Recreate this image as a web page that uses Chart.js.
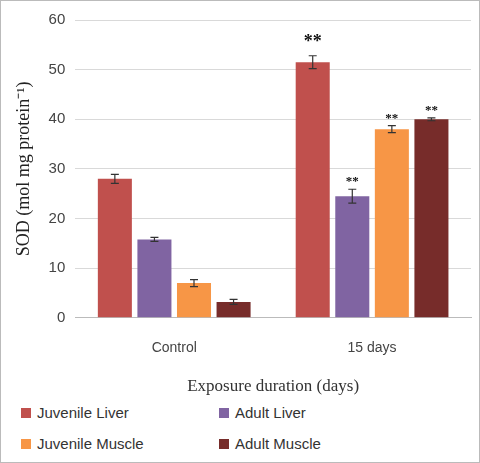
<!DOCTYPE html>
<html><head><meta charset="utf-8">
<script src="https://cdn.jsdelivr.net/npm/chart.js@4/dist/chart.umd.min.js"></script>
<style>
body{margin:0;background:#fff;font-family:"Liberation Sans",Arial,sans-serif}
#wrap{position:relative;width:478px;height:461px;border:1px solid #bbb}
#c{position:absolute;left:0;top:0}
.lg{position:absolute;font-size:15px;color:#333}
.lg span{display:inline-block;width:10px;height:10px;margin-right:6px;vertical-align:0}
</style></head><body>
<div id="wrap"><canvas id="c" width="478" height="400"></canvas>
<div class="lg" style="left:20px;top:403px"><span style="background:#c0504d"></span>Juvenile Liver</div>
<div class="lg" style="left:218px;top:403px"><span style="background:#8064a2"></span>Adult Liver</div>
<div class="lg" style="left:20px;top:434px"><span style="background:#f79646"></span>Juvenile Muscle</div>
<div class="lg" style="left:218px;top:434px"><span style="background:#772c2a"></span>Adult Muscle</div>
</div>
<script>
const categories=["Control","15 days"];
const seriesNames=["Juvenile Liver","Adult Liver","Juvenile Muscle","Adult Muscle"];
const colors=["#c0504d","#8064a2","#f79646","#772c2a"];
const juvenileLiver=[28,51.5];
const adultLiver=[15.8,24.5];
const juvenileMuscle=[7,38];
const adultMuscle=[3.2,40];
const errJL=[0.9,1.3]; const errAL=[0.4,1.4]; const errJM=[0.7,0.7]; const errAM=[0.5,0.3];
const stars=[["","**"],["","**"],["","**"],["","**"]];
const vals=[juvenileLiver,adultLiver,juvenileMuscle,adultMuscle];
const errs=[errJL,errAL,errJM,errAM];
const plug={id:'eb',afterDatasetsDraw(ch){const c=ch.ctx,y=ch.scales.y;
ch.data.datasets.forEach((d,i)=>{ch.getDatasetMeta(i).data.forEach((b,j)=>{
const v=vals[i][j],e=errs[i][j],t=y.getPixelForValue(v+e),bt=y.getPixelForValue(v-e);
c.save();c.strokeStyle='#333';c.lineWidth=1.2;c.beginPath();
c.moveTo(b.x,t);c.lineTo(b.x,bt);c.moveTo(b.x-4,t);c.lineTo(b.x+4,t);c.moveTo(b.x-4,bt);c.lineTo(b.x+4,bt);c.stroke();
if(stars[i][j]){c.fillStyle='#111';c.textAlign='center';c.textBaseline='bottom';
c.font=(i==0?'bold 18px':'bold 13px')+' "Liberation Serif"';c.fillText(stars[i][j],b.x,t-(i==0?4:1));}
c.restore();});});}};
new Chart(document.getElementById('c'),{type:'bar',
data:{labels:categories,datasets:seriesNames.map((n,i)=>({label:n,data:vals[i],backgroundColor:colors[i]}))},
options:{responsive:false,animation:false,
layout:{padding:{top:12,right:8,left:8}},
plugins:{legend:{display:false},tooltip:{enabled:false}},
datasets:{bar:{categoryPercentage:0.8,barPercentage:0.86}},
scales:{
x:{grid:{display:false},border:{color:'#bbb'},ticks:{color:'#444',font:{size:14,family:'"Liberation Sans"'},padding:14},
title:{display:true,text:'Exposure duration (days)',color:'#333',font:{size:17,family:'"Liberation Serif"'},padding:{top:6}}},
y:{min:0,max:60,ticks:{stepSize:10,color:'#444',font:{size:15,family:'"Liberation Sans"'},padding:10},
grid:{color:'#d9d9d9',drawTicks:false},border:{display:false},
title:{display:true,text:'SOD (mol mg protein⁻¹)',color:'#222',font:{size:18,family:'"Liberation Serif"'}}}}},
plugins:[plug]});
</script></body></html>
